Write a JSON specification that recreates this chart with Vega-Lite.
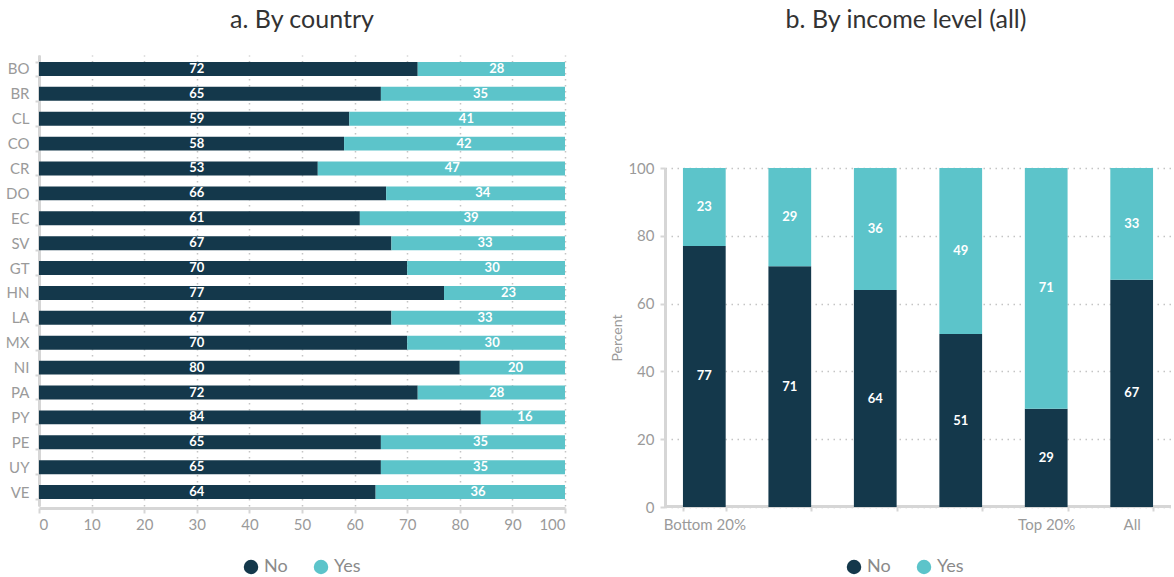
{
  "$schema": "https://vega.github.io/schema/vega-lite/v6.json",
  "padding": {"left": 5, "top": 8, "right": 0, "bottom": 0},
  "spacing": 44,
  "config": {
    "font": "Lato",
    "view": {"stroke": null},
    "title": {"fontSize": 25, "font": "Lato", "fontWeight": "normal", "color": "#333333", "anchor": "middle"},
    "axis": {
      "domainColor": "#d6d6d6", "domainWidth": 3,
      "tickColor": "#d6d6d6", "tickWidth": 2, "tickSize": 5,
      "labelColor": "#9a9a9a", "labelFontSize": 15, "labelFont": "Lato",
      "titleColor": "#9a9a9a", "titleFont": "Lato", "titleFontWeight": "normal",
      "gridColor": "#c4c4c4", "gridDash": [1.5, 4.5], "gridWidth": 1.5
    },
    "legend": {
      "orient": "none", "direction": "horizontal", "symbolType": "circle", "symbolSize": 210, "symbolStrokeWidth": 0,
      "labelFontSize": 18, "labelColor": "#8a8a8a", "labelFont": "Lato", "columnPadding": 24, "title": null
    }
  },
  "datasets": {
    "countries": [
      {"country": "BO", "response": "No", "value": 72}, {"country": "BO", "response": "Yes", "value": 28},
      {"country": "BR", "response": "No", "value": 65}, {"country": "BR", "response": "Yes", "value": 35},
      {"country": "CL", "response": "No", "value": 59}, {"country": "CL", "response": "Yes", "value": 41},
      {"country": "CO", "response": "No", "value": 58}, {"country": "CO", "response": "Yes", "value": 42},
      {"country": "CR", "response": "No", "value": 53}, {"country": "CR", "response": "Yes", "value": 47},
      {"country": "DO", "response": "No", "value": 66}, {"country": "DO", "response": "Yes", "value": 34},
      {"country": "EC", "response": "No", "value": 61}, {"country": "EC", "response": "Yes", "value": 39},
      {"country": "SV", "response": "No", "value": 67}, {"country": "SV", "response": "Yes", "value": 33},
      {"country": "GT", "response": "No", "value": 70}, {"country": "GT", "response": "Yes", "value": 30},
      {"country": "HN", "response": "No", "value": 77}, {"country": "HN", "response": "Yes", "value": 23},
      {"country": "LA", "response": "No", "value": 67}, {"country": "LA", "response": "Yes", "value": 33},
      {"country": "MX", "response": "No", "value": 70}, {"country": "MX", "response": "Yes", "value": 30},
      {"country": "NI", "response": "No", "value": 80}, {"country": "NI", "response": "Yes", "value": 20},
      {"country": "PA", "response": "No", "value": 72}, {"country": "PA", "response": "Yes", "value": 28},
      {"country": "PY", "response": "No", "value": 84}, {"country": "PY", "response": "Yes", "value": 16},
      {"country": "PE", "response": "No", "value": 65}, {"country": "PE", "response": "Yes", "value": 35},
      {"country": "UY", "response": "No", "value": 65}, {"country": "UY", "response": "Yes", "value": 35},
      {"country": "VE", "response": "No", "value": 64}, {"country": "VE", "response": "Yes", "value": 36}
    ],
    "income": [
      {"level": "Bottom 20%", "response": "No", "value": 77}, {"level": "Bottom 20%", "response": "Yes", "value": 23},
      {"level": "Q2", "response": "No", "value": 71}, {"level": "Q2", "response": "Yes", "value": 29},
      {"level": "Q3", "response": "No", "value": 64}, {"level": "Q3", "response": "Yes", "value": 36},
      {"level": "Q4", "response": "No", "value": 51}, {"level": "Q4", "response": "Yes", "value": 49},
      {"level": "Top 20%", "response": "No", "value": 29}, {"level": "Top 20%", "response": "Yes", "value": 71},
      {"level": "All", "response": "No", "value": 67}, {"level": "All", "response": "Yes", "value": 33}
    ]
  },
  "resolve": {"legend": {"color": "independent"}},
  "hconcat": [
    {
      "title": {"text": "a. By country", "offset": 15},
      "width": 526,
      "height": 451,
      "data": {"name": "countries"},
      "transform": [
        {"stack": "value", "groupby": ["country"], "sort": [{"field": "response", "order": "ascending"}], "as": ["v0", "v1"]}
      ],
      "layer": [
        {
          "mark": {"type": "bar"},
          "encoding": {
            "y": {"field": "country", "type": "nominal", "sort": null,
                  "scale": {"paddingInner": 0.44, "paddingOuter": 0.28},
                  "axis": {"title": null, "grid": false, "tickBand": "extent", "tickSize": 4, "labelPadding": 6}},
            "x": {"field": "v0", "type": "quantitative",
                  "scale": {"domain": [0, 100], "nice": false},
                  "axis": {"title": null, "grid": true, "values": [0, 10, 20, 30, 40, 50, 60, 70, 80, 90, 100], "offset": 2, "labelPadding": 4}},
            "x2": {"field": "v1"},
            "color": {"field": "response", "type": "nominal",
                      "scale": {"domain": ["No", "Yes"], "range": ["#14384B", "#5CC4CA"]},
                      "legend": {"legendX": 203, "legendY": 503}}
          }
        },
        {
          "transform": [{"filter": "datum.response === 'No'"}],
          "mark": {"type": "text", "color": "white", "fontWeight": "bold", "fontSize": 13, "baseline": "middle"},
          "encoding": {
            "y": {"field": "country", "type": "nominal", "sort": null},
            "x": {"datum": 30},
            "text": {"field": "value", "type": "quantitative"}
          }
        },
        {
          "transform": [{"filter": "datum.response === 'Yes'"}, {"calculate": "99.5 - 0.445 * datum.value", "as": "lx"}],
          "mark": {"type": "text", "color": "white", "fontWeight": "bold", "fontSize": 13, "baseline": "middle"},
          "encoding": {
            "y": {"field": "country", "type": "nominal", "sort": null},
            "x": {"field": "lx", "type": "quantitative"},
            "text": {"field": "value", "type": "quantitative"}
          }
        }
      ]
    },
    {
      "title": {"text": "b. By income level (all)", "offset": 22, "dx": -12},
      "width": 506,
      "height": 451,
      "data": {"name": "income"},
      "transform": [
        {"stack": "value", "groupby": ["level"], "sort": [{"field": "response", "order": "ascending"}], "as": ["v0", "v1"]},
        {"calculate": "(datum.v0 + datum.v1) / 2", "as": "mid"}
      ],
      "layer": [
        {
          "mark": {"type": "bar"},
          "encoding": {
            "x": {"field": "level", "type": "nominal", "sort": null,
                  "scale": {"paddingInner": 0.5, "paddingOuter": 0.21},
                  "axis": {"title": null, "labelAngle": 0, "grid": false, "tickBand": "extent", "labelFontSize": 15, "labelPadding": 6,
                           "labelExpr": "indexof(['Q2','Q3','Q4'], datum.value) >= 0 ? '' : datum.value"}},
            "y": {"field": "v0", "type": "quantitative",
                  "scale": {"domain": [0, 100], "nice": false, "range": [452, 113]},
                  "axis": {"title": "Percent", "titleFontSize": 14, "titlePadding": 3, "grid": true, "values": [0, 20, 40, 60, 80, 100], "labelPadding": 6}},
            "y2": {"field": "v1"},
            "color": {"field": "response", "type": "nominal",
                      "scale": {"domain": ["No", "Yes"], "range": ["#14384B", "#5CC4CA"]},
                      "legend": {"legendX": 180, "legendY": 503}}
          }
        },
        {
          "mark": {"type": "text", "color": "white", "fontWeight": "bold", "fontSize": 13, "baseline": "middle"},
          "encoding": {
            "x": {"field": "level", "type": "nominal", "sort": null},
            "y": {"field": "mid", "type": "quantitative"},
            "text": {"field": "value", "type": "quantitative"}
          }
        }
      ]
    }
  ]
}
